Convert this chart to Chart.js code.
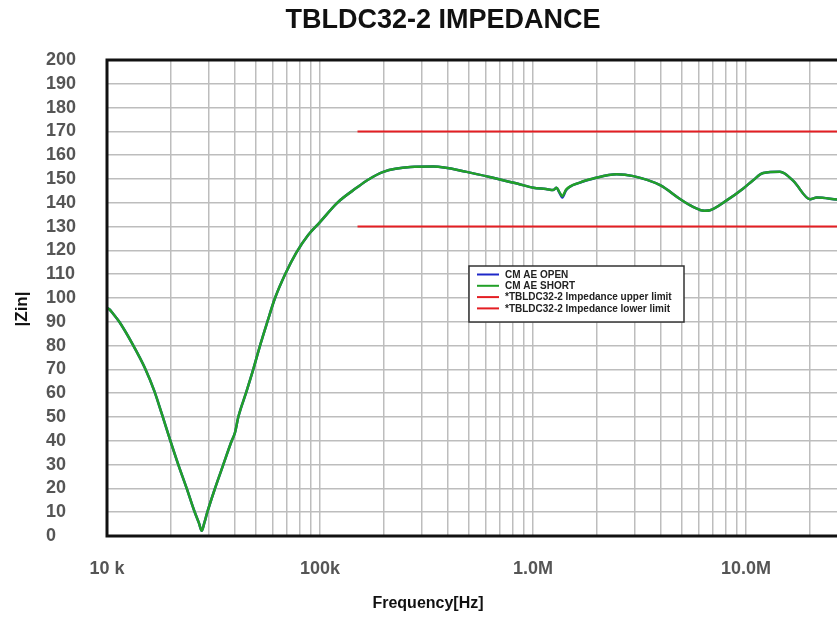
<!DOCTYPE html>
<html>
<head>
<meta charset="utf-8">
<script src="https://cdn.jsdelivr.net/npm/chart.js@4.4.0/dist/chart.umd.min.js"></script>
<style>
  html, body { margin: 0; padding: 0; background: #fff; overflow: hidden; }
</style>
</head>
<body>
<canvas id="myChart" width="886" height="617"></canvas>
<script>
// frequency points (Hz)
var freqHz = [10000, 10250, 10600, 11420, 13200, 15080, 16670, 18060, 19760, 21610,
  23670, 25700, 27000, 27840, 28600, 29580, 32140, 35160, 38500, 39900,
  41350, 44900, 48600, 52300, 56600, 61500, 68600, 77300, 88000, 100200,
  120500, 149600, 166700, 198300, 265700, 341000, 488000, 700000, 850000, 1003000,
  1150000, 1245000, 1290000, 1330000, 1373000, 1430000, 1660000, 1920000, 2470000, 2960000,
  3950000, 4900000, 5450000, 6080000, 6400000, 6780000, 8110000, 9710000, 10800000, 12050000,
  14440000, 16680000, 20000000, 21500000, 26700000, 30000000];

var shortZ = [95.8, 95.3, 93.8, 90, 80.5, 70.5, 61, 51.5, 40.5, 30,
  20, 10.5, 5.5, 2.2, 5.3, 10, 20, 30, 40, 43.5,
  50, 60, 70, 80, 90, 100, 110, 119, 126.5, 132,
  140, 146.5, 149.5, 153, 155, 155.2, 153, 149.8, 148, 146.3,
  145.8, 145.4, 146.3, 144.5, 142.8, 145.5, 148.5, 150.2, 152, 151.2,
  147.4, 141.6, 139, 137, 136.7, 136.9, 141, 146, 149.5, 152.5,
  153, 149.2, 141.5, 142.2, 141.4, 141];

var openZ = [95.8, 95.3, 93.8, 90, 80.5, 70.5, 61, 51.5, 40.5, 30,
  20, 10.5, 5.5, 2.2, 5.3, 10, 20, 30, 40, 43.5,
  50, 60, 70, 80, 90, 100, 110, 119, 126.5, 132,
  140, 146.5, 149.5, 153, 155, 155.2, 153, 149.8, 148, 146.3,
  145.8, 145.4, 146.3, 144.3, 142.2, 145.3, 148.5, 150.2, 152, 151.2,
  147.4, 141.6, 139, 137, 136.7, 136.9, 141, 146, 149.5, 152.5,
  153, 149.2, 141.5, 142.2, 141.4, 141];

var limitFreq = [150000, 100000000];
var upperLimit = [170, 170];
var lowerLimit = [130, 130];

var xMin = 10000, xMax = 28000000;
var decadePx = 213;
var xTickValues = [10000, 100000, 1000000, 10000000];
var xTickLabels = ['10 k', '100k', '1.0M', '10.0M'];

function pts(xs, ys) {
  return xs.map(function (x, i) { return { x: x, y: ys[i] }; });
}

Chart.defaults.font.family = "'Liberation Sans', Arial, sans-serif";

// legend box, plot frame and axis titles
var frame = {
  id: 'frame',
  afterDraw: function (chart) {
    var ctx = chart.ctx, a = chart.chartArea;
    ctx.save();

    // legend
    var bx = 469, by = 266, bw = 215, bh = 56;
    ctx.fillStyle = '#fff';
    ctx.fillRect(bx, by, bw, bh);
    ctx.strokeStyle = '#333';
    ctx.lineWidth = 1.5;
    ctx.strokeRect(bx, by, bw, bh);
    ctx.font = "bold 10px 'Liberation Sans', Arial, sans-serif";
    ctx.textBaseline = 'middle';
    ctx.textAlign = 'left';
    chart.data.datasets.forEach(function (ds, i) {
      var y = by + 8.5 + i * 11.3;
      ctx.strokeStyle = ds.borderColor;
      ctx.lineWidth = 2;
      ctx.beginPath();
      ctx.moveTo(bx + 8, y);
      ctx.lineTo(bx + 30, y);
      ctx.stroke();
      ctx.fillStyle = '#222';
      ctx.fillText(ds.label, bx + 36, y + 0.5);
    });

    // frame
    ctx.strokeStyle = '#111';
    ctx.lineWidth = 3;
    ctx.strokeRect(a.left, a.top, a.right - a.left, a.bottom - a.top);

    // axis titles
    ctx.fillStyle = '#111';
    ctx.font = "bold 16px 'Liberation Sans', Arial, sans-serif";
    ctx.textAlign = 'center';
    ctx.fillText('Frequency[Hz]', 428, 604);
    ctx.translate(22, 309);
    ctx.rotate(-Math.PI / 2);
    ctx.font = "bold 17px 'Liberation Sans', Arial, sans-serif";
    ctx.fillText('|Zin|', 0, 0);
    ctx.restore();
  }
};

var ctx = document.getElementById('myChart').getContext('2d');
var chart = new Chart(ctx, {
  type: 'line',
  data: {
    datasets: [{
      label: 'CM AE OPEN',
      data: pts(freqHz, openZ),
      borderColor: 'rgb(30, 40, 200)',
      borderWidth: 2.5,
      order: 3
    }, {
      label: 'CM AE SHORT',
      data: pts(freqHz, shortZ),
      borderColor: 'rgb(34, 160, 40)',
      borderWidth: 2.5,
      order: 2
    }, {
      label: '*TBLDC32-2 Impedance upper limit',
      data: pts(limitFreq, upperLimit),
      borderColor: 'rgb(228, 30, 35)',
      borderWidth: 2,
      order: 1
    }, {
      label: '*TBLDC32-2 Impedance lower limit',
      data: pts(limitFreq, lowerLimit),
      borderColor: 'rgb(228, 30, 35)',
      borderWidth: 2,
      order: 1
    }]
  },
  options: {
    responsive: false,
    animation: false,
    events: [],
    cubicInterpolationMode: 'monotone',
    elements: { point: { radius: 0 } },
    layout: { padding: { left: 46, right: 46, top: 0, bottom: 0 } },
    plugins: {
      legend: { display: false },
      tooltip: { enabled: false },
      title: {
        display: true,
        text: 'TBLDC32-2 IMPEDANCE',
        color: '#111',
        font: { size: 27, weight: 'bold' },
        padding: { top: 4, bottom: 23.6 }
      }
    },
    scales: {
      x: {
        type: 'logarithmic',
        min: xMin,
        max: xMax,
        afterBuildTicks: function (scale) {
          var t = [];
          var top = scale.max;
          for (var d = xMin; d < top; d *= 10) {
            for (var m = 1; m <= 9; m++) {
              if (m * d <= top) t.push({ value: m * d });
            }
          }
          scale.ticks = t;
        },
        afterFit: function (scale) { scale.height = 81; },
        grid: { color: '#bdbdbd', lineWidth: 1.5, drawTicks: false },
        border: { display: false },
        ticks: {
          autoSkip: false,
          maxRotation: 0,
          padding: 22,
          color: '#555',
          font: { size: 18, weight: 'bold' },
          callback: function (v) {
            var i = xTickValues.indexOf(v);
            return i < 0 ? '' : xTickLabels[i];
          }
        }
      },
      y: {
        min: 0,
        max: 200,
        afterFit: function (scale) { scale.width = 61; },
        grid: { color: '#bdbdbd', lineWidth: 1.5, drawTicks: false },
        border: { display: false },
        ticks: {
          stepSize: 10,
          autoSkip: false,
          crossAlign: 'far',
          color: '#555',
          font: { size: 18, weight: 'bold' }
        }
      }
    }
  },
  plugins: [frame]
});

// keep one decade at the reference width, whatever width the plot area got
var area = chart.chartArea;
chart.options.scales.x.max = xMin * Math.pow(10, (area.right - area.left) / decadePx);
chart.update();
</script>
</body>
</html>
